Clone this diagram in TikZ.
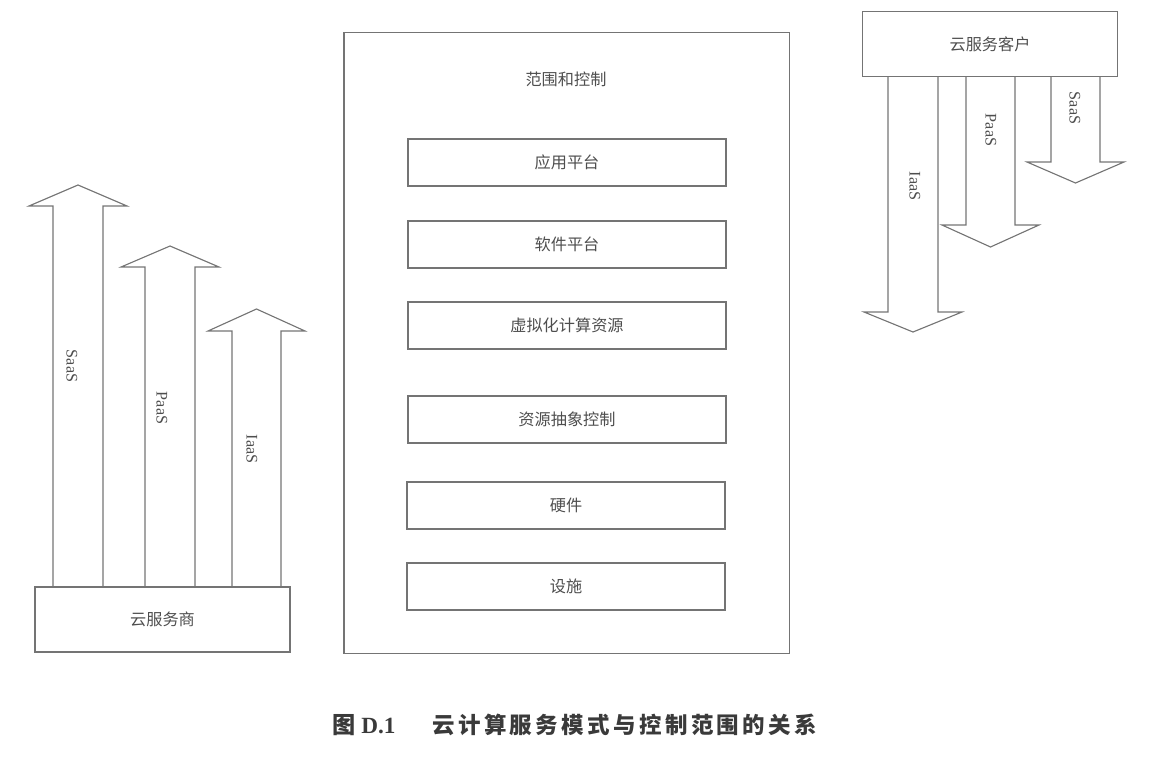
\documentclass[tikz,border=0pt]{standalone}
\usepackage{fontspec}
\setmainfont{Liberation Serif}
\newfontfamily\cjk{Noto Sans CJK SC}
\usetikzlibrary{positioning}
\definecolor{cLine}{HTML}{747474}
\definecolor{cText}{HTML}{4E4E4E}
\definecolor{cCaption}{HTML}{3A3A3A}
\tikzset{
  scopebox/.style={
    draw=cLine, line width=0.8pt,
    minimum width=11.125cm, minimum height=15.5cm
  },
  layerbox/.style={
    draw=cLine, line width=0.8pt,
    minimum width=7.95cm, minimum height=1.175cm,
    font=\cjk\fontsize{11.5}{14}\selectfont, text=cText
  },
  layertext/.style={
    font=\cjk\fontsize{11.5}{14}\selectfont, text=cText
  },
  partybox/.style={
    draw=cLine, line width=0.8pt,
    minimum width=6.375cm, minimum height=1.625cm,
    font=\cjk\fontsize{11.5}{14}\selectfont, text=cText
  },
  blockarrow/.style={
    draw=cLine, line width=0.8pt, line join=miter
  },
  svclabel/.style={
    rotate=-90, font=\fontsize{11.5}{14}\selectfont, text=cText
  },
}
% block arrows standing on a box: left x, right x, head base y, tip y, box
\newcommand{\blockup}[5]{%
  \draw[blockarrow] (#1,0 |- #5.north) -- (#1,#3) -- ({#1-24},#3)
    -- ({(#1+#2)/2},#4) -- ({#2+24},#3) -- (#2,#3) -- (#2,0 |- #5.north);}
\newcommand{\blockdown}[5]{%
  \draw[blockarrow] (#1,0 |- #5.south) -- (#1,#3) -- ({#1-24},#3)
    -- ({(#1+#2)/2},#4) -- ({#2+24},#3) -- (#2,#3) -- (#2,0 |- #5.south);}

\begin{document}
\begin{tikzpicture}[x=0.025cm, y=-0.025cm, every node/.style={inner sep=0pt}]
\useasboundingbox (0,0) rectangle (1151,770);

% ---- Scope and control ----
\node[scopebox] (scope) at (566.5,343) {};
\node[layertext] (scopetitle) at (566,79) {范围和控制};

\node[layerbox] (app)   at (567,162.5) {应用平台};
\node[layerbox] (soft)  at (567,244.5) {软件平台};
\node[layerbox] (virt)  at (567,325.5) {虚拟化计算资源};
\node[layerbox] (abstr) at (567,419.5) {资源抽象控制};
\node[layerbox] (hw)    at (566,505.5) {硬件};
\node[layerbox] (fac)   at (566,586.5) {设施};

% ---- Provider ----
\node[partybox] (prov) at (162.5,619.5) {云服务商};

\blockup{53}{103}{206}{185}{prov}
\blockup{145}{195}{267}{246}{prov}
\blockup{232}{281}{331}{309}{prov}

\node[svclabel] (provsaas) at (72,366) {SaaS};
\node[svclabel] (provpaas) at (162,408) {PaaS};
\node[svclabel] (providas) at (252,449) {IaaS};

% ---- Customer ----
\node[partybox] (cust) at (990,44) {云服务客户};

\blockdown{888}{938}{312}{332}{cust}
\blockdown{966}{1015}{225}{247}{cust}
\blockdown{1051}{1100}{162}{183}{cust}

\node[svclabel] (custiaas) at (915,186) {IaaS};
\node[svclabel] (custpaas) at (991,130) {PaaS};
\node[svclabel] (custsaas) at (1075,108) {SaaS};

% ---- Caption ----
\node[anchor=west, text=cCaption, font=\fontsize{16.5}{19}\selectfont\bfseries]
  (figno) at (332,725) {{\cjk 图} D.1};
\node[anchor=west, text=cCaption,
      font=\cjk\fontsize{16}{19}\selectfont\bfseries\addfontfeature{LetterSpace=15}]
  (figtitle) at (432,725) {云计算服务模式与控制范围的关系};

\end{tikzpicture}
\end{document}
